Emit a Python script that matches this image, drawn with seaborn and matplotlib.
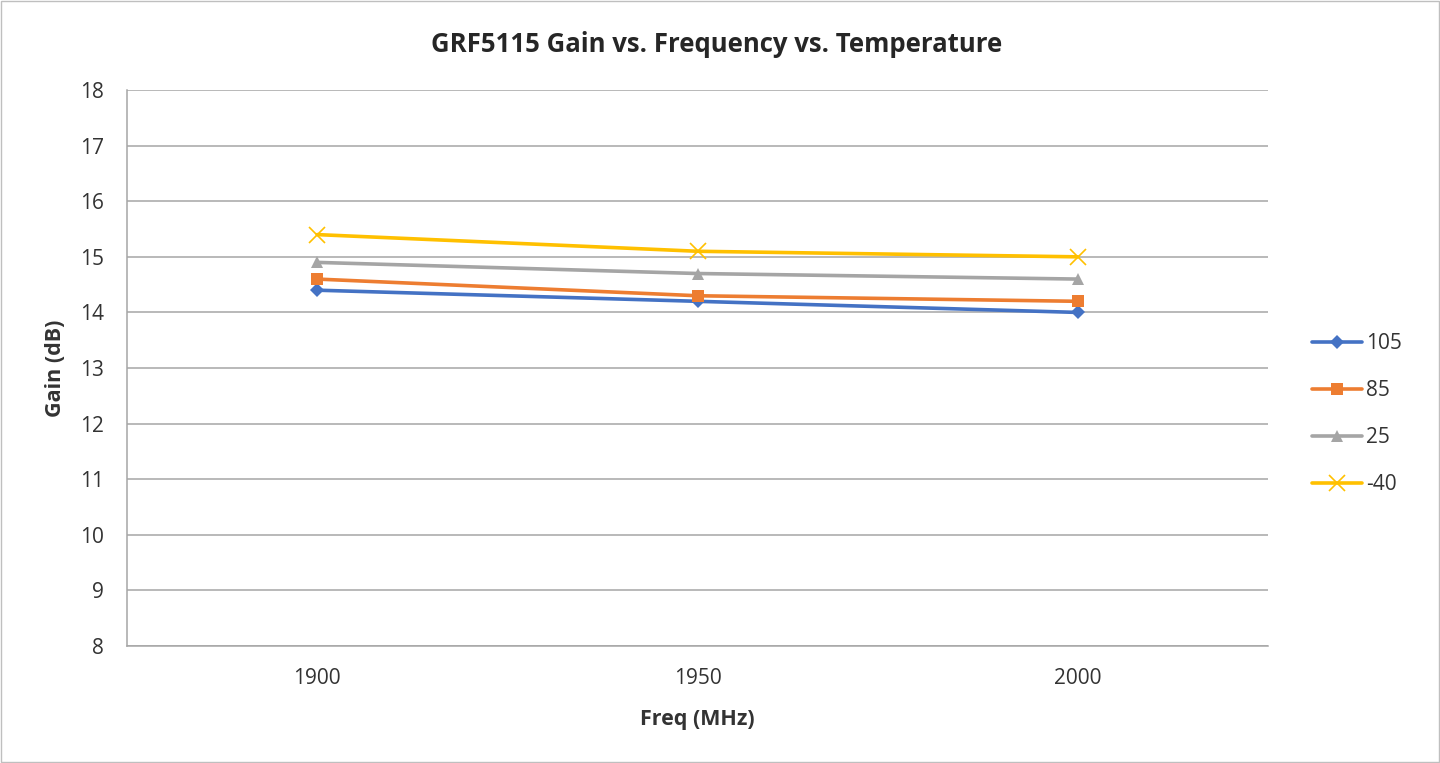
import pandas as pd
import seaborn as sns
import matplotlib.pyplot as plt
from matplotlib.patches import Rectangle

freqs = ["1900", "1950", "2000"]
temps = ["105", "85", "25", "-40"]
gain_105 = [14.4, 14.2, 14.0]
gain_85 = [14.6, 14.3, 14.2]
gain_25 = [14.9, 14.7, 14.6]
gain_m40 = [15.4, 15.1, 15.0]

colors = ["#4472C4", "#ED7D31", "#A5A5A5", "#FFC000"]
markers = ["D", "s", "^", "x"]

sns.set_style("white")
plt.rcParams["font.family"] = ["Open Sans", "DejaVu Sans"]

fig = plt.figure(figsize=(14.4, 7.63), dpi=100)
ax = fig.add_axes([0.0882, 0.1533, 0.7924, 0.7287])

# one call per series: filled and line-art markers can't be mixed in one call
for t, vals, c, m in zip(temps, [gain_105, gain_85, gain_25, gain_m40], colors, markers):
    d = pd.DataFrame({"Freq": freqs, "Gain": vals})
    if m == "x":
        kw = dict(markersize=11, markeredgewidth=1.2, markeredgecolor=c)
    else:
        kw = dict(markersize=9 if m != "D" else 7.5, markeredgewidth=0)
    sns.lineplot(data=d, x="Freq", y="Gain", color=c, marker=m, linewidth=2.6,
                 sort=False, label=t, ax=ax, **kw)

gcol = "#A6A6A6"
ax.set_xlim(-0.5, 2.5)
ax.set_ylim(8, 18)
ax.set_yticks(range(8, 19))
ax.yaxis.grid(True, color=gcol, linewidth=1.1)
ax.set_axisbelow(True)
for s in ["top", "right"]:
    ax.spines[s].set_visible(False)
for s in ["bottom", "left"]:
    ax.spines[s].set_color(gcol)
    ax.spines[s].set_linewidth(1.1)
ax.tick_params(axis="x", length=0, labelsize=15, labelcolor="#333333", pad=16)
ax.tick_params(axis="y", length=6.5, width=1.1, color=gcol, direction="out",
               labelsize=15, labelcolor="#333333", pad=10)

ax.set_xlabel("Freq (MHz)", fontsize=15.5, fontweight="bold", color="#333333", labelpad=14)
ax.set_ylabel("Gain (dB)", fontsize=15.5, fontweight="bold", color="#333333", labelpad=10)
fig.suptitle("GRF5115 Gain vs. Frequency vs. Temperature", x=0.498, y=0.96,
             fontsize=18.5, fontweight="bold", color="#262626")

ax.legend(loc="center left", bbox_to_anchor=(1.022, 0.417), frameon=False,
          fontsize=15, labelcolor="#333333", handlelength=2.4, handletextpad=0.2,
          labelspacing=1.25)

fig.patches.append(Rectangle((0.001, 0.001), 0.998, 0.998, transform=fig.transFigure,
                             fill=False, edgecolor="#BFBFBF", linewidth=1))

fig.savefig("out.png", dpi=100)
